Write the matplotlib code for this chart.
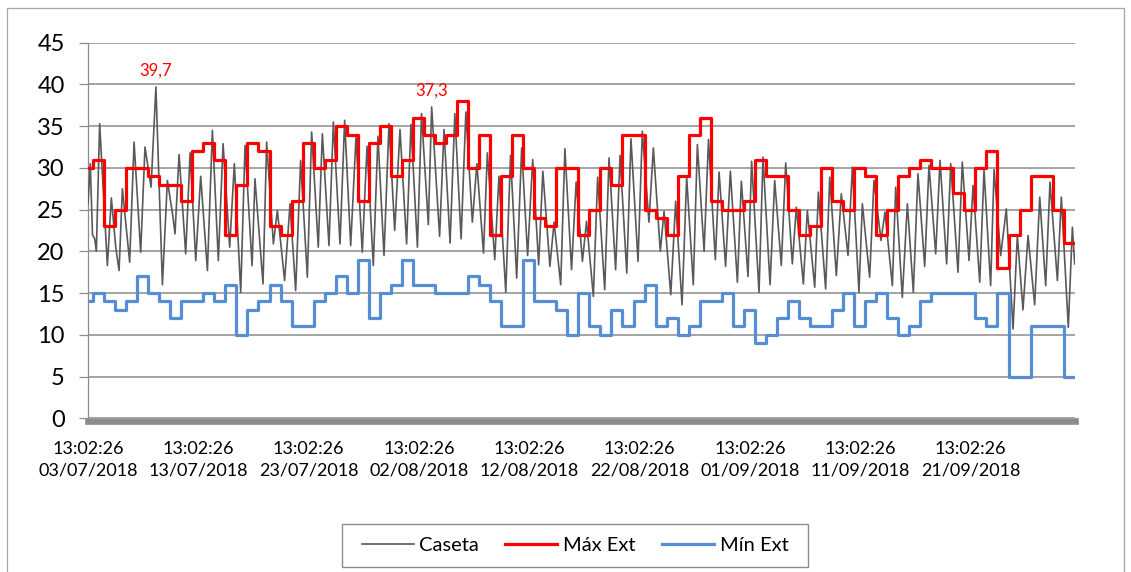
import matplotlib
matplotlib.use("Agg")
import matplotlib.pyplot as plt
import matplotlib.dates as mdates
from matplotlib.patches import Rectangle
import numpy as np
import pandas as pd

plt.rcParams['font.family'] = ['Lato', 'DejaVu Sans']

# ---------------- data ----------------
series_names = ["Caseta", "Máx Ext", "Mín Ext"]
start_time = "2018-07-03 13:02:26"
end_time = "2018-10-01 00:00:00"
day0 = "2018-07-03"

# Caseta: turning points (days since 03/07/2018 00:00, temperature)
caseta_t = [0.5434, 0.75, 0.95, 1.15, 1.30, 1.60, 2.30, 2.66, 3.06, 3.36, 3.66, 4.32, 4.72, 5.32, 5.71,
            6.26, 6.70, 7.29, 7.74, 8.25, 8.43, 8.80, 9.40, 9.80, 10.31, 10.76, 11.37, 11.82, 12.36,
            12.79, 13.39, 13.81, 14.39, 14.78, 15.42, 15.68, 16.41, 16.74, 17.35, 17.71, 18.37, 18.86,
            19.37, 19.82, 20.43, 20.82, 21.42, 21.79, 22.39, 22.79, 23.39, 23.81, 24.36, 24.84, 25.41,
            25.84, 26.41, 26.83, 27.38, 27.83, 28.35, 28.83, 29.43, 29.82, 30.41, 30.78, 31.40, 31.70,
            32.42, 32.82, 33.37, 33.80, 34.37, 34.80, 35.39, 35.80, 36.40, 36.75, 37.42, 37.80, 38.42,
            38.85, 39.41, 39.86, 40.40, 40.86, 41.40, 41.78, 42.42, 42.80, 43.40, 43.78, 44.38, 44.80,
            45.37, 45.74, 46.36, 46.75, 47.39, 47.78, 48.38, 48.78, 49.39, 49.77, 50.41, 50.80, 51.40,
            51.80, 52.43, 52.77, 53.38, 53.82, 54.40, 54.82, 55.42, 55.79, 56.40, 56.80, 57.42, 57.76,
            58.35, 58.78, 59.42, 59.78, 60.38, 60.71, 61.38, 61.74, 62.38, 62.80, 63.40, 63.80, 64.40,
            64.76, 65.40, 65.76, 66.43, 66.76, 67.42, 67.79, 68.39, 68.84, 69.45, 69.84, 70.44, 70.75,
            71.41, 71.80, 72.44, 72.80, 73.47, 73.77, 74.37, 74.83, 75.37, 75.79, 76.40, 76.79, 77.40,
            77.79, 78.39, 78.76, 79.42, 79.81, 80.42, 80.78, 81.39, 81.78, 82.38, 82.69, 83.29, 83.80,
            84.41, 84.80, 85.31, 85.77, 86.37, 86.83, 87.37, 87.76, 88.43, 88.79, 89.42, 89.79, 90.00]
caseta_v = [25.7, 30.5, 22.0, 21.5, 20.0, 35.3, 18.3, 26.4, 20.5, 17.7, 27.5, 18.7, 33.1, 19.9, 32.5,
            27.7, 39.7, 16.0, 28.5, 24.1, 22.1, 31.6, 19.7, 31.8, 18.9, 29.0, 17.7, 34.5, 18.9,
            32.9, 20.5, 30.5, 15.1, 32.7, 18.3, 28.7, 16.1, 33.1, 20.9, 24.9, 16.5, 25.7,
            15.3, 30.9, 16.9, 34.3, 20.5, 34.1, 20.7, 35.5, 20.9, 35.7, 20.7, 33.7, 19.9,
            32.6, 18.3, 33.8, 19.5, 35.3, 22.5, 34.6, 20.9, 35.2, 20.5, 36.5, 23.2, 37.3,
            21.8, 34.6, 21.0, 36.5, 21.5, 36.7, 23.5, 30.5, 19.8, 31.8, 19.0, 29.0, 15.1,
            31.5, 16.8, 32.4, 19.5, 31.0, 18.4, 29.6, 18.2, 23.5, 16.0, 32.3, 17.8, 28.3,
            18.8, 23.6, 14.6, 28.9, 15.4, 31.2, 17.8, 31.5, 17.4, 33.5, 18.8, 34.4, 23.5,
            32.4, 20.0, 24.8, 14.8, 26.0, 13.6, 28.9, 16.0, 32.8, 20.0, 33.4, 19.0, 29.5,
            18.2, 29.6, 16.3, 28.4, 17.0, 30.8, 15.1, 31.3, 16.0, 28.5, 18.3, 30.6, 18.5,
            25.3, 16.1, 24.9, 15.7, 27.1, 15.5, 28.9, 17.1, 26.9, 19.5, 30.1, 15.1, 25.7,
            16.9, 28.5, 21.3, 24.7, 15.9, 27.7, 14.5, 25.7, 15.1, 29.3, 18.2, 30.3, 19.7,
            30.9, 18.5, 30.5, 17.5, 30.7, 18.9, 27.9, 16.3, 29.7, 15.9, 29.8, 19.5, 25.1,
            10.7, 21.9, 13.0, 21.9, 13.6, 26.5, 15.9, 28.3, 16.5, 26.5, 10.9, 22.9, 18.5]

# Daily outdoor max / min (one value per day, 03/07 .. 30/09)
max_ext = [30, 31, 23, 25, 30, 30, 29, 28, 28, 26, 32, 33, 31, 22, 28, 33, 32, 23, 22, 26,
           33, 30, 31, 35, 34, 26, 33, 35, 29, 31, 36, 34, 33, 34, 38, 30, 34, 22, 29, 34,
           30, 24, 23, 30, 30, 22, 25, 30, 28, 34, 34, 25, 24, 22, 29, 34, 36, 26, 25, 25,
           26, 31, 29, 29, 25, 22, 23, 30, 26, 25, 30, 29, 22, 25, 29, 30, 31, 30, 30, 27,
           25, 30, 32, 18, 22, 25, 29, 29, 25, 21]
min_ext = [14, 15, 14, 13, 14, 17, 15, 14, 12, 14, 14, 15, 14, 16, 10, 13, 14, 16, 14, 11,
           11, 14, 15, 17, 15, 19, 12, 15, 16, 19, 16, 16, 15, 15, 15, 17, 16, 14, 11, 11,
           19, 14, 14, 13, 10, 15, 11, 10, 13, 11, 14, 16, 11, 12, 10, 11, 14, 14, 15, 11,
           13, 9, 10, 12, 14, 12, 11, 11, 13, 15, 11, 14, 15, 12, 10, 11, 14, 15, 15, 15,
           15, 12, 11, 15, 5, 5, 11, 11, 11, 5]

labelled_values = [39.7, 37.3]
y_ticks = list(range(0, 50, 5))
tick_step_days = 10

# ---------------- figure ----------------
W, H = 1131, 572
fig = plt.figure(figsize=(W / 100, H / 100), dpi=100)
ax = fig.add_axes([88 / W, 1 - 418.3 / H, (1074.7 - 88) / W, (418.3 - 42.7) / H])

base = pd.Timestamp(day0)
t_start = pd.Timestamp(start_time)
t_end = pd.Timestamp(end_time)

cx = (base + pd.to_timedelta(caseta_t, unit="D")).to_numpy()
days = pd.date_range(day0, periods=len(max_ext), freq="D")
step_x = np.append(days.to_numpy(), np.datetime64(t_end))
max_y = max_ext + [max_ext[-1]]
min_y = min_ext + [min_ext[-1]]

grid_col = "#8c8c8c"
c_cas, c_max, c_min = "#595959", "#ff0000", "#558ed5"

ax.plot(cx, caseta_v, color=c_cas, lw=1.2, zorder=3, label=series_names[0])
ax.plot(step_x, max_y, drawstyle="steps-post", color=c_max, lw=2.3, zorder=4,
        label=series_names[1])
ax.plot(step_x, min_y, drawstyle="steps-post", color=c_min, lw=2.3, zorder=5,
        label=series_names[2])

for val in labelled_values:
    i = int(np.argmin(np.abs(np.array(caseta_v) - val)))
    ax.annotate(f"{caseta_v[i]:.1f}".replace(".", ","), xy=(cx[i], caseta_v[i]),
                xytext=(0, 11.5), textcoords="offset points", ha="center", va="center",
                color=c_max, fontsize=12)

ax.set_ylim(0, 45)
ax.set_yticks(y_ticks)
ax.set_xlim(np.datetime64(t_start), np.datetime64(t_end))
xt = pd.date_range(t_start, t_end, freq=f"{tick_step_days}D")
ax.set_xticks(xt.to_numpy())
ax.xaxis.set_major_formatter(mdates.DateFormatter("%H:%M:%S\n%d/%m/%Y"))

ax.yaxis.grid(True, color=grid_col, lw=1.1, zorder=1)
ax.set_axisbelow(True)
for s in ("top", "right"):
    ax.spines[s].set_visible(False)
ax.spines["left"].set_color(grid_col)
ax.spines["left"].set_linewidth(0.9)
ax.spines["bottom"].set_color(grid_col)
ax.spines["bottom"].set_linewidth(4.8)
ax.spines["bottom"].set_position(("outward", 2.3))

ax.tick_params(axis="y", direction="out", length=6.3, width=0.9, color=grid_col,
               pad=10.5, labelsize=17, labelcolor="black")
ax.tick_params(axis="x", length=0, pad=14, labelsize=13, labelcolor="black")
for lab in ax.get_xticklabels():
    lab.set_linespacing(1.45)

# legend
fs = 14.5
fs_px = fs * 100 / 72
leg = fig.legend(loc="center", bbox_to_anchor=(575 / W, 1 - 545.5 / H),
                 bbox_transform=fig.transFigure, ncol=3, frameon=False, fontsize=fs,
                 handlelength=52 / fs_px, handletextpad=6 / fs_px, columnspacing=26 / fs_px)
fig.add_artist(Rectangle((342 / W, 1 - 567 / H), (808 - 342) / W, (567 - 524) / H,
                         transform=fig.transFigure, fill=False, ec=grid_col, lw=1.0))
# outer chart border
fig.add_artist(Rectangle((7 / W, -0.02), (1124 - 7) / W, 1 - 8 / H + 0.02,
                         transform=fig.transFigure, fill=False, ec="#a6a6a6", lw=0.9))

fig.savefig("out.png", dpi=100)
